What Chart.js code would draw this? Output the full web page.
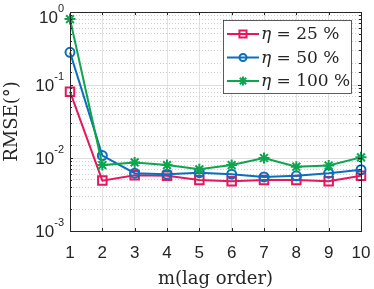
<!DOCTYPE html>
<html>
<head>
<meta charset="utf-8">
<script src="https://cdn.jsdelivr.net/npm/chart.js@4.4.0/dist/chart.umd.min.js"></script>
<style>
  html, body { margin: 0; padding: 0; background: #fff; }
  #wrap { width: 374px; height: 289px; }
</style>
</head>
<body>
<div id="wrap"><canvas id="grafica" width="374" height="289"></canvas></div>
<script>
// datos
const lagOrder = [1, 2, 3, 4, 5, 6, 7, 8, 9, 10];
const rmse25 = [0.081, 0.0049, 0.0058, 0.0057, 0.0050, 0.0048, 0.0050, 0.0050, 0.0048, 0.0057];
const rmse50 = [0.28, 0.0108, 0.0062, 0.0060, 0.0063, 0.0060, 0.0055, 0.0057, 0.0062, 0.0069];
const rmse100 = [0.80, 0.0080, 0.0087, 0.0080, 0.0070, 0.0080, 0.0100, 0.0076, 0.0079, 0.0102];
const etaLabels = ['25 %', '50 %', '100 %'];
const yDecades = [1e-3, 1e-2, 1e-1, 1];
const yExponents = ['-3', '-2', '-1', '0'];

const ejes = '#262626';
const fuenteTicks = '"Liberation Sans", Arial, sans-serif';
const fuenteSerif = '"DejaVu Serif", "Liberation Serif", serif';

function esDecada(v) {
  const l = Math.log10(v);
  return Math.abs(l - Math.round(l)) < 1e-9;
}

function crearSerie(label, data, color, estilo, radio, orden) {
  return {
    label: label,
    data: data,
    borderColor: color,
    backgroundColor: 'rgba(0,0,0,0)',
    borderWidth: 2,
    pointStyle: estilo,
    pointRadius: radio,
    pointHoverRadius: radio,
    pointBorderColor: color,
    pointBackgroundColor: 'rgba(0,0,0,0)',
    pointBorderWidth: 2,
    tension: 0,
    clip: false,
    order: orden
  };
}

function sinPadding(s) {
  s.paddingLeft = 0;
  s.paddingRight = 0;
  s.paddingTop = 0;
  s.paddingBottom = 0;
}

const marco = {
  id: 'marco',
  afterDatasetsDraw(chart) {
    const ctx = chart.ctx;
    const a = chart.chartArea;
    const xs = chart.scales.x;
    const ys = chart.scales.y;
    ctx.save();

    // caja
    ctx.strokeStyle = ejes;
    ctx.lineWidth = 1;
    ctx.strokeRect(Math.round(a.left) + 0.5, Math.round(a.top) + 0.5,
      Math.round(a.right - a.left), Math.round(a.bottom - a.top));

    // ticks hacia dentro
    ctx.beginPath();
    lagOrder.forEach((m, i) => {
      const x = Math.round(xs.getPixelForValue(i)) + 0.5;
      ctx.moveTo(x, a.bottom); ctx.lineTo(x, a.bottom - 3);
      ctx.moveTo(x, a.top); ctx.lineTo(x, a.top + 3);
    });
    ys.ticks.forEach(t => {
      const y = Math.round(ys.getPixelForValue(t.value)) + 0.5;
      const len = esDecada(t.value) ? 3 : 2;
      ctx.moveTo(a.left, y); ctx.lineTo(a.left + len, y);
      ctx.moveTo(a.right, y); ctx.lineTo(a.right - len, y);
    });
    ctx.stroke();

    // etiquetas del eje y con exponente
    ctx.fillStyle = ejes;
    ctx.textBaseline = 'alphabetic';
    yDecades.forEach((v, i) => {
      const y = ys.getPixelForValue(v);
      const base = Math.max(y + 6, 23);
      ctx.font = '11px ' + fuenteTicks;
      const wExp = ctx.measureText(yExponents[i]).width;
      ctx.font = '17px ' + fuenteTicks;
      const wBase = ctx.measureText('10').width;
      const derecha = a.left - 6;
      ctx.textAlign = 'left';
      ctx.fillText('10', derecha - wExp - wBase, base);
      ctx.font = '11px ' + fuenteTicks;
      ctx.fillText(yExponents[i], derecha - wExp, base - 11);
    });

    // leyenda
    const lw = 128, lh = 73;
    const lx = Math.round(a.right - 10 - lw), ly = Math.round(a.top + 8);
    ctx.fillStyle = '#fff';
    ctx.fillRect(lx, ly, lw, lh);
    ctx.strokeStyle = '#333';
    ctx.lineWidth = 0.8;
    ctx.strokeRect(lx + 0.5, ly + 0.5, lw, lh);
    chart.data.datasets.forEach((ds, i) => {
      const y = ly + 14 + i * 23.5;
      ctx.strokeStyle = ds.borderColor;
      ctx.lineWidth = 2;
      ctx.beginPath();
      ctx.moveTo(lx + 4, y); ctx.lineTo(lx + 36, y);
      ctx.stroke();
      ctx.fillStyle = 'rgba(0,0,0,0)';
      ctx.lineWidth = ds.pointBorderWidth;
      Chart.helpers.drawPoint(ctx, {
        pointStyle: ds.pointStyle, radius: ds.pointRadius - 1, rotation: 0, borderWidth: ds.pointBorderWidth
      }, lx + 20, y);
      ctx.fillStyle = ejes;
      ctx.textBaseline = 'middle';
      ctx.textAlign = 'left';
      ctx.font = 'italic 17px ' + fuenteSerif;
      ctx.fillText('\u03b7', lx + 38, y + 1);
      const wEta = ctx.measureText('\u03b7').width;
      ctx.font = '17px ' + fuenteSerif;
      ctx.fillText(' = ' + etaLabels[i], lx + 38 + wEta, y + 1);
    });
    ctx.restore();
  }
};

const chart = new Chart(document.getElementById('grafica'), {
  type: 'line',
  data: {
    labels: lagOrder,
    datasets: [
      crearSerie('\u03b7 = ' + etaLabels[0], rmse25, '#e6175c', 'rect', 6, 2),
      crearSerie('\u03b7 = ' + etaLabels[1], rmse50, '#0a6fbd', 'circle', 4.5, 1),
      crearSerie('\u03b7 = ' + etaLabels[2], rmse100, '#0ca64f', 'star', 5.5, 0)
    ]
  },
  options: {
    responsive: false,
    animation: false,
    devicePixelRatio: 1,
    layout: { padding: { left: 0, right: 13, top: 12, bottom: 0 } },
    plugins: {
      legend: { display: false },
      tooltip: { enabled: false },
      title: { display: false }
    },
    scales: {
      x: {
        type: 'category',
        offset: false,
        grid: { color: '#e2e2e2', lineWidth: 1, drawTicks: false, offset: false },
        border: { display: false },
        ticks: {
          color: ejes,
          font: { family: fuenteTicks, size: 17 },
          padding: 12,
          maxRotation: 0,
          autoSkip: false
        },
        title: {
          display: true,
          text: 'm(lag order)',
          color: ejes,
          font: { family: fuenteSerif, size: 18, lineHeight: 1.1 },
          padding: { top: 0, bottom: 0 }
        },
        afterFit(s) { s.height = 58; sinPadding(s); }
      },
      y: {
        type: 'logarithmic',
        min: 0.001,
        max: 1,
        grid: {
          drawTicks: false,
          lineWidth: 1,
          color: c => (c.tick && esDecada(c.tick.value)) ? '#dedede' : '#cfcfcf'
        },
        border: {
          display: false,
          dash: c => (c.tick && !esDecada(c.tick.value)) ? [1, 2] : []
        },
        ticks: {
          autoSkip: false,
          callback: () => '',
          font: { family: fuenteTicks, size: 16 }
        },
        title: {
          display: true,
          text: 'RMSE(\u00b0)',
          color: ejes,
          font: { family: fuenteSerif, size: 18 },
          padding: { top: 2, bottom: 0 }
        },
        afterFit(s) { s.width = 70; sinPadding(s); }
      }
    }
  },
  plugins: [marco]
});
</script>
</body>
</html>
